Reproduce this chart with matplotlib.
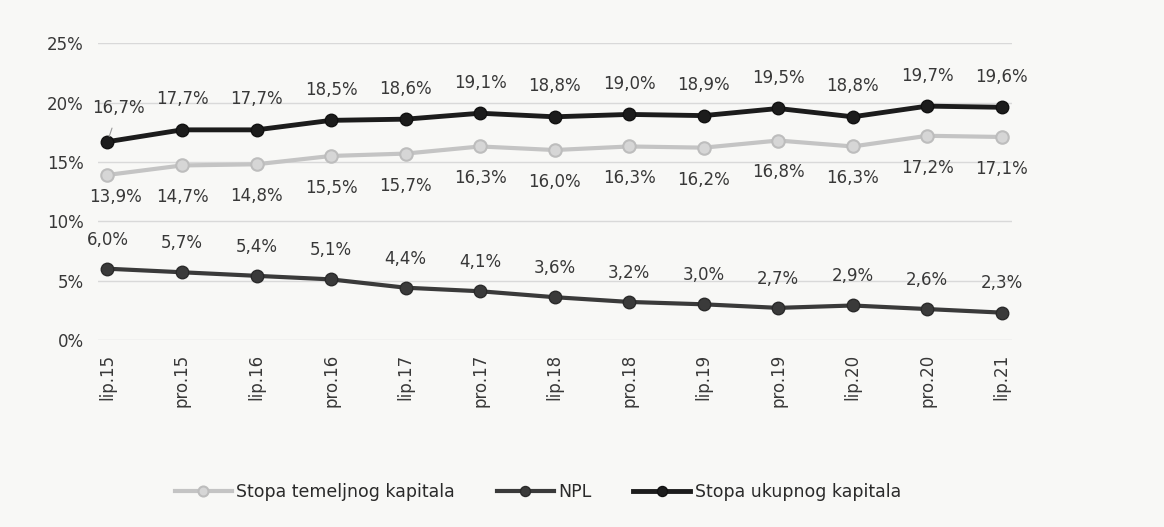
import matplotlib.pyplot as plt
import numpy as np

periods = ['lip.15', 'pro.15', 'lip.16', 'pro.16', 'lip.17', 'pro.17', 'lip.18',
           'pro.18', 'lip.19', 'pro.19', 'lip.20', 'pro.20', 'lip.21']
temeljni = [13.9, 14.7, 14.8, 15.5, 15.7, 16.3, 16.0, 16.3, 16.2, 16.8, 16.3, 17.2, 17.1]
npl = [6.0, 5.7, 5.4, 5.1, 4.4, 4.1, 3.6, 3.2, 3.0, 2.7, 2.9, 2.6, 2.3]
ukupni = [16.7, 17.7, 17.7, 18.5, 18.6, 19.1, 18.8, 19.0, 18.9, 19.5, 18.8, 19.7, 19.6]

def fmt(v):
    return f"{v:.1f}%".replace('.', ',')

plt.rcParams['font.family'] = ['DejaVu Sans']

fig = plt.figure(figsize=(11.64, 5.27), dpi=100, facecolor='#f8f8f6')
ax = fig.add_axes([0.084, 0.355, 0.785, 0.563])
ax.set_facecolor('#f8f8f6')

x = np.arange(len(periods))
ax.plot(x, temeljni, color='#c4c4c4', lw=3, marker='o', ms=9,
        mfc='#d6d6d6', mec='#bdbdbd', mew=1.5, label='Stopa temeljnog kapitala', zorder=3)
ax.plot(x, npl, color='#3a3a3a', lw=3, marker='o', ms=9,
        mfc='#3a3a3a', mec='#2a2a2a', label='NPL', zorder=3)
ax.plot(x, ukupni, color='#1c1c1c', lw=3.5, marker='o', ms=9,
        mfc='#1c1c1c', mec='#111111', label='Stopa ukupnog kapitala', zorder=3)

lab_kw = dict(ha='center', va='center', fontsize=12, color='#383838')
for i in x:
    if i == 0:
        # first label sits a bit to the right with a small leader line
        ax.annotate(fmt(ukupni[i]), (i, ukupni[i]), xytext=(8, 24), textcoords='offset points',
                    arrowprops=dict(arrowstyle='-', color='#9a9a9a', lw=0.8,
                                    shrinkA=6, shrinkB=4), **lab_kw)
        ax.annotate(fmt(temeljni[i]), (i, temeljni[i]), xytext=(6, -16), textcoords='offset points',
                    **lab_kw)
    else:
        ax.annotate(fmt(ukupni[i]), (i, ukupni[i]), xytext=(0, 22), textcoords='offset points',
                    **lab_kw)
        ax.annotate(fmt(temeljni[i]), (i, temeljni[i]), xytext=(0, -23), textcoords='offset points',
                    **lab_kw)
    ax.annotate(fmt(npl[i]), (i, npl[i]), xytext=(0, 21), textcoords='offset points',
                **lab_kw)

ax.set_ylim(0, 25)
ax.set_yticks([0, 5, 10, 15, 20, 25])
ax.set_yticklabels([f"{v}%" for v in [0, 5, 10, 15, 20, 25]], fontsize=12, color='#383838')
ax.set_xlim(-0.13, 12.13)
ax.set_xticks(x)
ax.set_xticklabels(periods, rotation=90, fontsize=12, color='#383838')
ax.tick_params(length=0, pad=10)
ax.grid(axis='y', color='#d9d9d9', lw=1)
ax.set_axisbelow(True)
for s in ax.spines.values():
    s.set_visible(False)

fig.legend(loc='center', bbox_to_anchor=(0.462, 0.066), ncol=3, frameon=False,
           fontsize=12.5, handlelength=3.3, columnspacing=2.4, handletextpad=0.25,
           markerscale=0.8, labelcolor='#2a2a2a')

fig.savefig('out.png', dpi=100, facecolor=fig.get_facecolor())
